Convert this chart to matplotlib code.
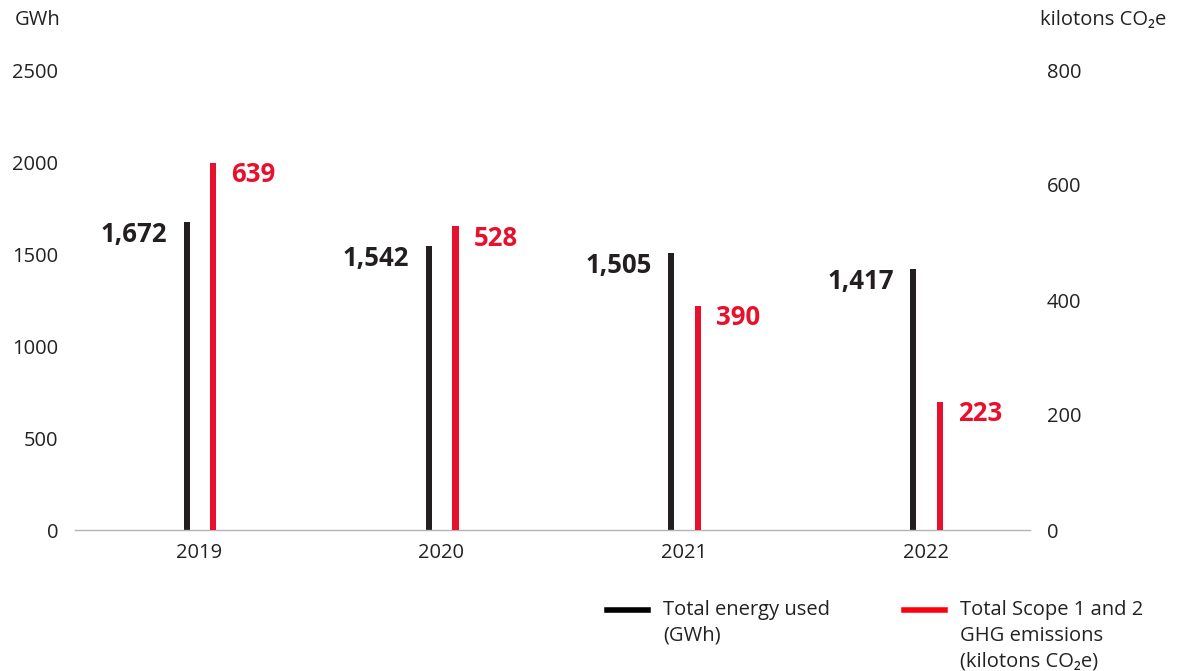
import matplotlib
matplotlib.use('Agg')
import matplotlib.pyplot as plt
from matplotlib.lines import Line2D
import numpy as np

plt.rcParams['font.family'] = ['Open Sans', 'DejaVu Sans']

# data
years = ['2019', '2020', '2021', '2022']
energy_gwh = [1672, 1542, 1505, 1417]
ghg_kt = [639, 528, 390, 223]
energy_labels = ['1,672', '1,542', '1,505', '1,417']
ghg_labels = ['639', '528', '390', '223']

black = '#231f20'
red = '#e8112d'
grey_txt = '#222222'
fs = 14.5

fig = plt.figure(figsize=(11.8, 6.71), dpi=100)
ax = fig.add_axes([75/1180, 1-530/671, 955/1180, 460/671])
ax2 = ax.twinx()

x = np.arange(len(years))
w = 0.026
ax.bar(x - 0.052, energy_gwh, width=w, color=black)
ax2.bar(x + 0.058, ghg_kt, width=w, color=red)

ax.set_ylim(0, 2500)
ax2.set_ylim(0, 800)
ax.set_xlim(-0.513, 3.43)
ax.set_yticks([0, 500, 1000, 1500, 2000, 2500])
ax2.set_yticks([0, 200, 400, 600, 800])
ax.set_xticks(x)
ax.set_xticklabels(years)

for a in (ax, ax2):
    for s in a.spines.values():
        s.set_visible(False)
    a.tick_params(length=0, labelsize=fs, colors=grey_txt)
ax.spines['bottom'].set_visible(True)
ax.spines['bottom'].set_color('#b4b4b4')
ax.spines['bottom'].set_linewidth(1)
ax.tick_params(axis='y', pad=12)
ax2.tick_params(axis='y', pad=12)
ax.tick_params(axis='x', pad=9)

# value labels
for i in range(len(years)):
    ax.annotate(energy_labels[i], (x[i] - 0.052, energy_gwh[i]), xytext=(-14, 1),
                textcoords='offset points', ha='right', va='top',
                fontsize=18.5, fontweight='bold', color=black)
    ax2.annotate(ghg_labels[i], (x[i] + 0.058, ghg_kt[i]), xytext=(13, 1),
                 textcoords='offset points', ha='left', va='top',
                 fontsize=18.5, fontweight='bold', color=red)

fig.text(60/1180, 1-20/671, 'GWh', ha='right', va='center', fontsize=fs, color=grey_txt)
fig.text(1040/1180, 1-20/671, 'kilotons CO\u2082e', ha='left', va='center', fontsize=fs, color=grey_txt)

# legend
fig.add_artist(Line2D([607/1180, 648/1180], [1-610/671, 1-610/671], color='#000000', lw=4))
fig.text(663/1180, 1-600/671, 'Total energy used\n(GWh)', ha='left', va='top',
         fontsize=fs, color=grey_txt, linespacing=1.38)
fig.add_artist(Line2D([904/1180, 945/1180], [1-610/671, 1-610/671], color='#ff000f', lw=4))
fig.text(960/1180, 1-600/671, 'Total Scope 1 and 2\nGHG emissions\n(kilotons CO\u2082e)',
         ha='left', va='top', fontsize=fs, color=grey_txt, linespacing=1.38)

plt.savefig('out.png', dpi=100)
plt.close('all')
